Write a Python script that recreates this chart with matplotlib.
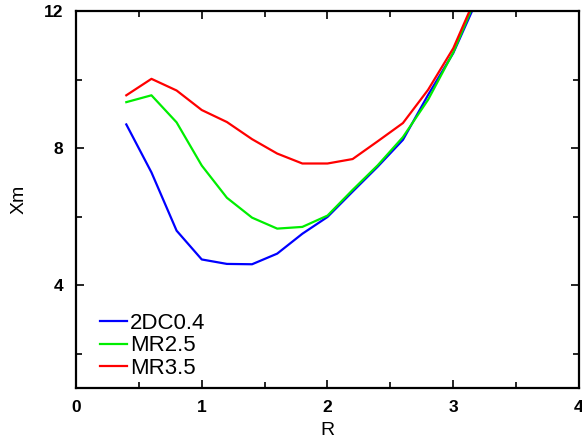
import numpy as np
import matplotlib
matplotlib.use("Agg")
import matplotlib.pyplot as plt
from matplotlib.ticker import MultipleLocator

plt.rcParams['font.family'] = ['Liberation Sans', 'DejaVu Sans']

# data
r = [0.4, 0.6, 0.8, 1.0, 1.2, 1.4, 1.6, 1.8, 2.0, 2.2, 2.4, 2.6, 2.8, 3.0, 3.2]
xm_2dc = [8.69, 7.29, 5.59, 4.75, 4.62, 4.61, 4.92, 5.50, 5.99, 6.73, 7.46, 8.24, 9.55, 10.77, 12.41]
xm_mr25 = [9.34, 9.54, 8.75, 7.49, 6.55, 5.97, 5.65, 5.70, 6.03, 6.78, 7.50, 8.32, 9.41, 10.79, 12.52]
xm_mr35 = [9.54, 10.02, 9.68, 9.11, 8.76, 8.26, 7.84, 7.55, 7.55, 7.68, 8.20, 8.73, 9.70, 10.91, 12.59]
labels = ["2DC0.4", "MR2.5", "MR3.5"]
colors = ["#0000ff", "#00ee00", "#ff0000"]

fig = plt.figure(figsize=(5.82, 4.43), dpi=100)
ax = fig.add_axes([0.1306, 0.1242, 0.8642, 0.851])

for y, lab, c in zip([xm_2dc, xm_mr25, xm_mr35], labels, colors):
    ax.plot(r, y, color=c, lw=1.6, label=lab)

ax.set_xlim(0, 4)
ax.set_ylim(1, 12)
ax.xaxis.set_major_locator(MultipleLocator(1))
ax.xaxis.set_minor_locator(MultipleLocator(0.5))
ax.set_yticks([4, 8, 12])
ax.set_yticks([2, 6, 10], minor=True)
ax.tick_params(which='both', direction='in', top=True, right=True, width=1.2)
ax.tick_params(which='major', length=6, labelsize=12.5, pad=9)
ax.tick_params(which='minor', length=4)
for lbl in ax.get_xticklabels() + ax.get_yticklabels():
    lbl.set_fontweight('bold')
for s in ax.spines.values():
    s.set_linewidth(1.6)

ax.set_xlabel("R", fontsize=14, labelpad=5)
ax.set_ylabel("Xm", fontsize=14, labelpad=12)

ax.legend(loc='lower left', bbox_to_anchor=(0.03, 0.0), frameon=False,
          fontsize=16, handlelength=1.2, handletextpad=0.15, labelspacing=0.08,
          borderaxespad=0.0)

fig.savefig("out.png", dpi=100)
